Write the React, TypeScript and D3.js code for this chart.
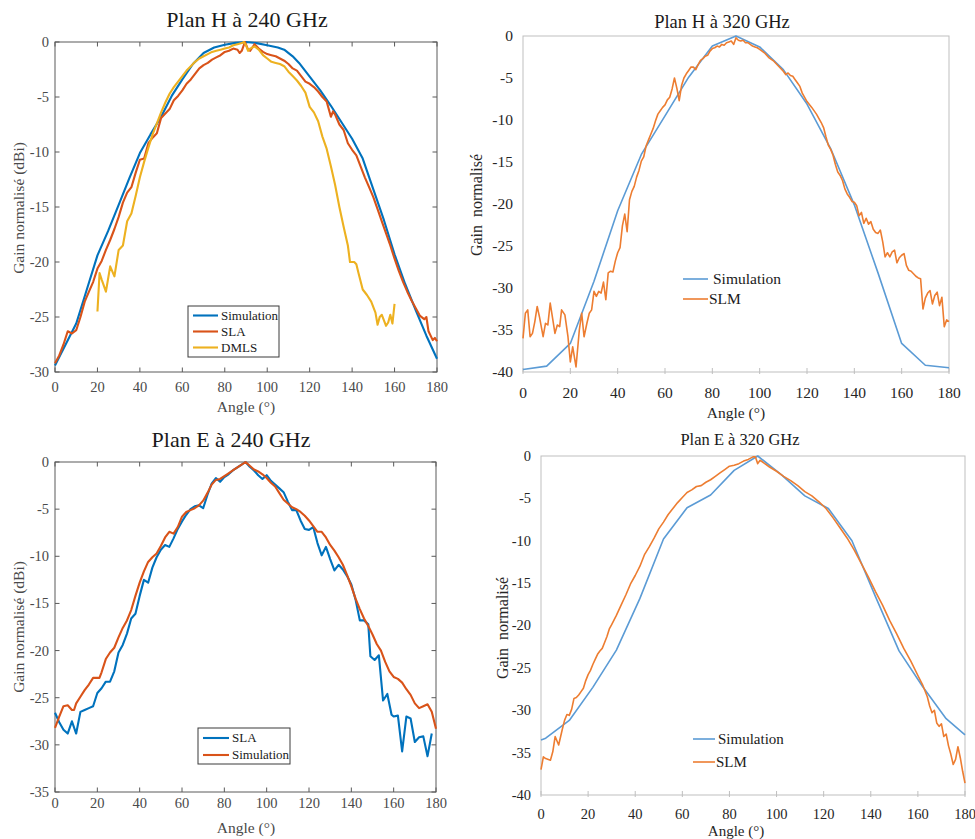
import React from "react";
import * as d3 from "d3";

type Pt = [number, number];

// ---------- Data ----------
const xTickValues = [0, 20, 40, 60, 80, 100, 120, 140, 160, 180];

// Plan H à 240 GHz
const h240Simulation: Pt[] = [
  [0, -29.4], [5, -27.5], [10, -25.6], [15, -22.5], [20, -19.4], [25, -17.2], [30, -14.8], [35, -12.4],
  [40, -10.1], [45, -8.4], [50, -6.8], [55, -4.9], [60, -3.4], [65, -2.0], [70, -1.0], [75, -0.5],
  [80, -0.25], [85, -0.08], [90, 0], [95, -0.1], [100, -0.3], [105, -0.5], [108, -0.7], [112, -1.3],
  [115, -1.9], [119, -2.9], [125, -4.4], [130, -5.8], [135, -7.3], [140, -8.8], [145, -10.6],
  [150, -13.4], [155, -16.2], [160, -19.3], [165, -22.0], [170, -24.4], [175, -26.7], [180, -28.8],
];
const h240SLA: Pt[] = [
  [0, -29.2], [2, -28.5], [4, -27.5], [6, -26.3], [8, -26.5], [10, -26.2], [12, -25.0], [14, -23.6],
  [16, -22.7], [18, -21.8], [20, -20.6], [22, -19.9], [24, -18.9], [26, -18.0], [28, -17.0], [30, -15.9],
  [32, -14.6], [34, -13.7], [36, -13.2], [38, -11.9], [40, -10.7], [42, -10.6], [44, -9.2], [46, -8.7],
  [48, -8.3], [50, -6.9], [52, -6.5], [54, -6.1], [56, -5.3], [58, -4.9], [60, -4.4], [62, -3.8],
  [64, -3.4], [66, -2.9], [68, -2.4], [70, -2.1], [72, -1.9], [74, -1.6], [76, -1.4], [78, -1.2],
  [80, -0.9], [82, -0.8], [84, -0.6], [86, -0.7], [87, -1.0], [88, -0.8], [89.5, 0], [91, -0.7],
  [92, -0.8], [94, -0.2], [96, -0.6], [98, -0.9], [100, -1.1], [102, -1.2], [104, -1.3], [106, -1.5],
  [108, -1.7], [110, -2.0], [112, -2.4], [114, -2.6], [116, -3.1], [118, -3.6], [120, -3.8], [122, -4.1],
  [124, -4.5], [126, -5.0], [128, -5.4], [130, -6.8], [131, -6.3], [132, -6.6], [134, -7.5], [136, -8.0],
  [138, -9.2], [140, -9.8], [142, -10.3], [144, -11.3], [146, -12.3], [148, -13.2], [150, -14.1],
  [152, -15.2], [154, -16.3], [156, -17.4], [158, -18.5], [160, -19.7], [162, -20.8], [164, -21.8],
  [166, -22.7], [168, -23.5], [170, -24.2], [172, -24.9], [174, -25.2], [175, -25.0], [176, -26.3],
  [178, -27.1], [179, -26.9], [180, -27.2],
];
const h240DMLS: Pt[] = [
  [20, -24.5], [21, -21.0], [22, -21.6], [24, -22.7], [26, -20.4], [28, -21.3], [30, -18.9], [32, -18.5],
  [34, -16.3], [36, -15.6], [38, -14.0], [40, -12.3], [42, -10.9], [44, -9.6], [46, -8.4], [48, -7.4],
  [50, -6.4], [52, -5.5], [54, -4.7], [56, -4.1], [58, -3.6], [60, -3.1], [62, -2.6], [64, -2.2],
  [66, -1.8], [68, -1.5], [70, -1.3], [72, -1.1], [74, -0.9], [76, -0.8], [78, -0.7], [80, -0.6],
  [82, -0.5], [84, -0.3], [86, -0.2], [88, -0.1], [89, 0], [90, -0.3], [91, -0.8], [92, -0.6],
  [93, -0.5], [94, -0.4], [96, -0.7], [98, -1.2], [100, -1.5], [102, -1.8], [104, -1.9], [106, -2.0],
  [108, -2.2], [110, -2.7], [112, -3.1], [114, -3.5], [116, -4.0], [118, -4.6], [120, -5.9], [122, -6.4],
  [124, -7.2], [126, -8.6], [128, -9.7], [130, -11.3], [132, -13.0], [134, -15.0], [136, -16.8],
  [138, -18.5], [139, -20.0], [141, -20.0], [142, -20.2], [143, -21.0], [145, -22.5], [147, -23.0],
  [149, -23.6], [151, -24.6], [152, -25.7], [153, -25.0], [154, -24.8], [156, -25.8], [157, -25.5],
  [158, -24.8], [159, -25.6], [160, -23.8],
];

// Plan E à 240 GHz
const e240SLA: Pt[] = [
  [0, -26.6], [2, -27.6], [4, -28.4], [6, -28.8], [8, -27.5], [10, -28.8], [12, -26.5], [14, -26.3],
  [16, -26.1], [18, -25.9], [20, -24.5], [22, -24.0], [24, -23.3], [26, -23.3], [28, -22.2], [30, -20.2],
  [32, -19.4], [34, -18.2], [36, -16.6], [38, -16.1], [40, -14.2], [42, -12.5], [44, -12.8], [46, -11.2],
  [48, -10.1], [50, -9.3], [52, -8.8], [54, -9.0], [56, -8.1], [58, -7.1], [60, -6.3], [62, -5.6],
  [64, -5.0], [66, -4.7], [68, -4.6], [70, -4.9], [72, -3.5], [74, -2.3], [76, -1.7], [78, -2.1],
  [80, -1.6], [82, -1.3], [84, -0.9], [86, -0.6], [88, -0.3], [90, 0], [92, -0.5], [94, -0.9],
  [96, -1.4], [98, -1.8], [100, -1.4], [102, -2.0], [104, -2.4], [106, -2.8], [108, -3.2], [110, -4.2],
  [112, -5.1], [114, -5.1], [116, -6.2], [118, -7.1], [120, -7.2], [122, -6.9], [124, -8.6], [126, -9.9],
  [128, -9.0], [130, -10.3], [132, -11.5], [134, -10.9], [136, -11.4], [138, -12.1], [140, -13.0],
  [142, -14.6], [144, -16.8], [146, -16.8], [148, -17.2], [149, -20.6], [151, -21.0], [153, -20.5],
  [155, -25.3], [157, -24.6], [159, -26.8], [160, -27.0], [162, -26.9], [164, -30.7], [166, -27.0],
  [168, -27.2], [170, -29.7], [172, -29.2], [174, -29.1], [176, -31.2], [178, -28.8],
];
const e240Simulation: Pt[] = [
  [0, -28.2], [2, -27.0], [4, -25.9], [6, -25.8], [8, -26.3], [9, -26.3], [10, -25.6], [12, -24.9],
  [14, -24.2], [16, -23.6], [18, -22.9], [20, -22.9], [21, -22.9], [22, -22.3], [24, -20.9], [26, -20.2],
  [28, -19.7], [30, -18.6], [32, -17.6], [34, -16.8], [36, -15.7], [38, -14.2], [40, -12.8], [42, -11.6],
  [44, -10.6], [46, -10.1], [48, -9.7], [50, -8.9], [52, -8.0], [54, -7.4], [56, -7.6], [58, -6.9],
  [60, -5.8], [62, -5.3], [64, -5.1], [66, -4.9], [68, -4.6], [70, -4.1], [72, -3.3], [74, -2.4],
  [76, -1.9], [78, -1.8], [80, -1.5], [82, -1.2], [84, -0.9], [86, -0.6], [88, -0.3], [90, 0],
  [92, -0.4], [94, -0.8], [96, -1.0], [98, -1.3], [100, -1.7], [102, -2.2], [104, -2.6], [106, -3.3],
  [108, -4.0], [110, -4.4], [112, -4.8], [114, -5.0], [116, -5.3], [118, -5.7], [120, -6.2], [122, -6.8],
  [124, -7.4], [126, -7.4], [128, -8.0], [130, -8.8], [132, -9.4], [134, -10.1], [136, -10.9],
  [138, -12.0], [140, -13.2], [142, -14.5], [144, -15.6], [146, -16.6], [148, -17.4], [150, -18.3],
  [152, -19.3], [154, -20.0], [156, -21.2], [158, -22.2], [160, -22.8], [162, -23.0], [164, -23.4],
  [166, -24.1], [168, -24.7], [170, -25.6], [172, -26.1], [174, -25.9], [176, -25.7], [178, -26.5],
  [180, -28.3],
];

// Plan H à 320 GHz
const h320Simulation: Pt[] = [
  [0, -39.7], [10, -39.3], [20, -36.6], [30, -29.2], [40, -20.8], [50, -14.1], [60, -9.5], [70, -4.9],
  [80, -1.2], [90, 0], [100, -1.3], [110, -4.0], [120, -8.1], [130, -13.4], [140, -20.1], [150, -28.2],
  [160, -36.6], [170, -39.2], [180, -39.5],
];
const h320SLM: Pt[] = [
  [0, -36.0], [1, -33.0], [2, -32.6], [3, -35.8], [4, -35.4], [5, -34.0], [6, -32.2], [7, -33.5],
  [8.5, -35.8], [9.5, -34.2], [10.5, -34.4], [11.5, -31.8], [12.5, -33.6], [13.5, -35.4], [14.5, -34.4],
  [15.5, -34.6], [16.3, -32.6], [17.7, -33.2], [19, -35.8], [20, -38.8], [21, -37.0], [22.4, -39.4],
  [23.8, -35.0], [24.8, -33.0], [25.8, -35.8], [27, -34.2], [28, -33.0], [29, -32.6], [30, -30.4],
  [31, -31.0], [32, -30.4], [33, -30.6], [34, -29.3], [35, -31.4], [36, -28.2], [37, -28.0], [38, -28.1],
  [39, -26.8], [40, -25.8], [41, -25.2], [42, -22.6], [43, -21.2], [44, -23.3], [45, -19.5], [46, -18.5],
  [47, -17.9], [48, -16.8], [49, -16.0], [50, -14.9], [51, -14.4], [52, -13.1], [53, -12.4], [54, -11.7],
  [55, -11.0], [56, -10.1], [57, -9.3], [58, -8.9], [59, -8.5], [60, -8.2], [61, -7.6], [62, -7.3],
  [63, -6.3], [64, -5.0], [65, -6.2], [66, -7.7], [67, -5.9], [68, -5.0], [69, -4.5], [70, -4.1],
  [71, -3.7], [72, -3.7], [73, -4.0], [74, -3.4], [75, -2.9], [76, -2.7], [77, -2.4], [78, -2.3],
  [79, -1.8], [80, -1.5], [81, -1.4], [82, -1.2], [83, -1.3], [84, -1.0], [85, -1.1], [86, -0.8],
  [87, -0.7], [88, -0.6], [89, -1.0], [90, -0.2], [91, -0.5], [92, -0.6], [93, -0.5], [94, -0.8],
  [95, -0.8], [96, -1.0], [97, -1.2], [98, -1.3], [99, -1.4], [100, -1.6], [102, -2.0], [104, -2.6],
  [106, -3.0], [108, -3.6], [110, -4.2], [111, -4.6], [112, -4.4], [113, -4.7], [114, -4.8], [115, -5.2],
  [116, -5.6], [117, -6.0], [118, -6.8], [119, -7.3], [120, -7.8], [122, -8.5], [124, -9.3], [126, -10.3],
  [127, -10.9], [128, -12.0], [129, -13.0], [130, -13.5], [131, -14.2], [132, -15.3], [133, -16.2],
  [134, -16.6], [135, -17.2], [136, -18.2], [137, -18.8], [138, -19.2], [139, -19.7], [140, -19.8],
  [141, -20.2], [142, -21.4], [143, -21.0], [144, -22.3], [145, -21.7], [146, -22.4], [147, -22.1],
  [148, -23.0], [149, -23.4], [150, -23.5], [151, -23.1], [152, -24.5], [153, -26.3], [154, -25.8],
  [155, -26.3], [156, -25.7], [157, -25.5], [158, -27.0], [159, -26.4], [160, -26.1], [161, -25.9],
  [162, -27.3], [163, -27.9], [164, -28.0], [165, -28.3], [166, -28.6], [167, -28.8], [168, -28.9],
  [169, -32.5], [170, -31.2], [171, -30.6], [172, -30.3], [173, -31.9], [174, -30.9], [175, -30.5],
  [176, -32.1], [177, -31.1], [178, -34.6], [179, -33.8], [180, -34.0],
];

// Plan E à 320 GHz
const e320Simulation: Pt[] = [
  [0, -33.5], [2, -33.3], [12, -31.2], [22, -27.3], [32, -22.9], [42, -16.8], [52, -9.8], [62, -6.1],
  [72, -4.6], [82, -1.7], [92, 0], [102, -2.2], [112, -4.7], [122, -6.2], [132, -10.0], [142, -16.6],
  [152, -23.0], [162, -27.2], [172, -31.0], [180, -32.9],
];
const e320SLM: Pt[] = [
  [0, -37.0], [1, -35.5], [2, -35.7], [4, -35.9], [5, -34.9], [6, -33.1], [7.5, -34.1], [9, -32.3],
  [10, -31.2], [11, -30.5], [12, -30.6], [13, -29.9], [14, -28.6], [15, -28.5], [16, -28.2], [17, -27.8],
  [18, -27.4], [19, -26.5], [20, -25.8], [21, -25.3], [22, -24.6], [23, -24.0], [24, -23.4], [25, -23.0],
  [26, -22.7], [27, -22.0], [28, -21.3], [29, -20.4], [30, -19.9], [32, -18.8], [34, -17.6], [36, -16.4],
  [38, -15.1], [40, -14.1], [42, -13.0], [44, -11.6], [46, -10.7], [48, -9.7], [50, -8.6], [52, -7.8],
  [54, -6.9], [56, -6.2], [58, -5.5], [60, -4.9], [62, -4.3], [64, -4.0], [66, -3.6], [68, -3.5],
  [70, -3.1], [72, -2.8], [74, -2.4], [76, -2.0], [78, -1.6], [80, -1.2], [82, -1.1], [84, -0.9],
  [86, -0.6], [88, -0.4], [90, -0.1], [91, -0.1], [92, -0.9], [93, -0.5], [95, -0.9], [97, -1.3],
  [100, -1.8], [103, -2.4], [106, -2.9], [109, -3.5], [112, -4.2], [115, -4.7], [118, -5.4], [121, -6.2],
  [124, -7.3], [127, -8.5], [130, -9.7], [133, -11.1], [136, -12.7], [139, -14.3], [142, -16.0],
  [145, -17.6], [148, -19.4], [151, -21.0], [154, -22.7], [157, -24.2], [160, -25.9], [162, -27.0],
  [164, -28.4], [165, -29.5], [166, -30.3], [167, -30.0], [168, -31.5], [169, -31.9], [170, -31.6],
  [171, -33.1], [172, -32.8], [173, -34.2], [174, -35.2], [175, -36.4], [176, -35.8], [177, -34.3],
  [178, -35.6], [179, -37.2], [180, -38.6],
];

// ---------- Styling ----------
const ML_BLUE = "#0072BD";
const ML_RED = "#D95319";
const ML_YELLOW = "#EDB120";
const XL_BLUE = "#5B9BD5";
const XL_ORANGE = "#ED7D31";
const SERIF = "'Liberation Serif', 'Times New Roman', serif";

type Series = { name: string; data: Pt[]; color: string };

type PanelCfg = {
  kind: "matlab" | "excel";
  left: number; right: number; top: number; bottom: number;
  yMin: number;
  title: string; titleX: number; titleY: number; titleSize: number;
  yLabel: string; yLabelX: number; yLabelY: number; yLabelSize: number;
  xLabelX: number; xLabelY: number; xLabelSize: number;
  tickSize: number; xTickY: number; yTickGap: number;
  series: Series[];
  legendOrder: string[];
  legend: { x: number; y: number; w: number; h: number; rowY: number[]; lineX0: number; lineX1: number; textX: number[]; size: number; box: boolean };
};

function Panel({ cfg }: { cfg: PanelCfg }) {
  const x = d3.scaleLinear().domain([0, 180]).range([cfg.left, cfg.right]);
  const y = d3.scaleLinear().domain([cfg.yMin, 0]).range([cfg.bottom, cfg.top]);
  const line = d3.line<Pt>().x((d) => x(d[0])).y((d) => y(d[1]));
  const yTicks = d3.range(cfg.yMin, 0.001, 5);
  const isML = cfg.kind === "matlab";
  const axisColor = isML ? "#5a5a5a" : "#bfbfbf";
  const labelColor = isML ? "#4a4a4a" : "#262626";
  const lw = isML ? 2.1 : 1.6;
  const tl = 4.5;
  const lg = cfg.legend;
  return (
    <g fontFamily={SERIF}>
      <text x={cfg.titleX} y={cfg.titleY} textAnchor="middle" fontSize={cfg.titleSize} fill="#1a1a1a">{cfg.title}</text>
      <rect x={cfg.left} y={cfg.top} width={cfg.right - cfg.left} height={cfg.bottom - cfg.top} fill="white" stroke={axisColor} strokeWidth={1} />
      {xTickValues.map((t) => (
        <g key={"xt" + t}>
          {isML ? (
            <>
              <line x1={x(t)} x2={x(t)} y1={cfg.bottom} y2={cfg.bottom - tl} stroke={axisColor} />
              <line x1={x(t)} x2={x(t)} y1={cfg.top} y2={cfg.top + tl} stroke={axisColor} />
            </>
          ) : (
            <line x1={x(t)} x2={x(t)} y1={cfg.bottom + 2} y2={cfg.bottom - 4} stroke={axisColor} />
          )}
          <text x={x(t)} y={cfg.xTickY} textAnchor="middle" fontSize={cfg.tickSize} fill={labelColor}>{t}</text>
        </g>
      ))}
      {yTicks.map((t) => (
        <g key={"yt" + t}>
          {isML && (
            <>
              <line x1={cfg.left} x2={cfg.left + tl} y1={y(t)} y2={y(t)} stroke={axisColor} />
              <line x1={cfg.right} x2={cfg.right - tl} y1={y(t)} y2={y(t)} stroke={axisColor} />
            </>
          )}
          <text x={cfg.left - cfg.yTickGap} y={y(t)} dy="0.34em" textAnchor="end" fontSize={cfg.tickSize} fill={labelColor}>{t === 0 ? "0" : String(t)}</text>
        </g>
      ))}
      {cfg.series.map((s) => (
        <path key={s.name} d={line(s.data) || ""} fill="none" stroke={s.color} strokeWidth={lw} strokeLinejoin="round" />
      ))}
      <text x={cfg.xLabelX} y={cfg.xLabelY} textAnchor="middle" fontSize={cfg.xLabelSize} fill={labelColor}>Angle (°)</text>
      <text transform={`translate(${cfg.yLabelX},${cfg.yLabelY}) rotate(-90)`} textAnchor="middle" dy="0.34em" fontSize={cfg.yLabelSize} fill={labelColor} style={{ whiteSpace: "pre" }}>{cfg.yLabel}</text>
      {lg.box && <rect x={lg.x} y={lg.y} width={lg.w} height={lg.h} fill="white" stroke="#3a3a3a" strokeWidth={1} />}
      {cfg.legendOrder.map((name, i) => {
        const s = cfg.series.find((q) => q.name === name)!;
        return (
          <g key={"lg" + name}>
            <line x1={lg.lineX0} x2={lg.lineX1} y1={lg.rowY[i]} y2={lg.rowY[i]} stroke={s.color} strokeWidth={lw} />
            <text x={lg.textX[i]} y={lg.rowY[i]} dy="0.34em" fontSize={lg.size} fill="#1a1a1a">{name}</text>
          </g>
        );
      })}
    </g>
  );
}

const panels: PanelCfg[] = [
  {
    kind: "matlab", left: 55, right: 437, top: 42, bottom: 372, yMin: -30,
    title: "Plan H à 240 GHz", titleX: 247, titleY: 27, titleSize: 22,
    yLabel: "Gain normalisé (dBi)", yLabelX: 19, yLabelY: 208, yLabelSize: 15.5,
    xLabelX: 246, xLabelY: 412, xLabelSize: 15.5, tickSize: 14.5, xTickY: 392, yTickGap: 6,
    series: [
      { name: "Simulation", data: h240Simulation, color: ML_BLUE },
      { name: "SLA", data: h240SLA, color: ML_RED },
      { name: "DMLS", data: h240DMLS, color: ML_YELLOW },
    ],
    legendOrder: ["Simulation", "SLA", "DMLS"],
    legend: { x: 188, y: 306, w: 91, h: 51, rowY: [315.5, 331.5, 347.5], lineX0: 193, lineX1: 218, textX: [221, 221, 221], size: 13, box: true },
  },
  {
    kind: "matlab", left: 55, right: 436, top: 462, bottom: 792, yMin: -35,
    title: "Plan E à 240 GHz", titleX: 231, titleY: 447, titleSize: 22,
    yLabel: "Gain normalisé (dBi)", yLabelX: 19, yLabelY: 627, yLabelSize: 15.5,
    xLabelX: 246, xLabelY: 833, xLabelSize: 15.5, tickSize: 14.5, xTickY: 808, yTickGap: 6,
    series: [
      { name: "SLA", data: e240SLA, color: ML_BLUE },
      { name: "Simulation", data: e240Simulation, color: ML_RED },
    ],
    legendOrder: ["SLA", "Simulation"],
    legend: { x: 198, y: 728, w: 92, h: 36, rowY: [738, 755], lineX0: 203, lineX1: 229, textX: [232, 232], size: 13, box: true },
  },
  {
    kind: "excel", left: 523, right: 949, top: 36, bottom: 372, yMin: -40,
    title: "Plan H à 320 GHz", titleX: 722, titleY: 28, titleSize: 18.5,
    yLabel: "Gain  normalisé", yLabelX: 477, yLabelY: 205, yLabelSize: 16,
    xLabelX: 736, xLabelY: 418, xLabelSize: 15.5, tickSize: 15.5, xTickY: 398, yTickGap: 10,
    series: [
      { name: "Simulation", data: h320Simulation, color: XL_BLUE },
      { name: "SLM", data: h320SLM, color: XL_ORANGE },
    ],
    legendOrder: ["Simulation", "SLM"],
    legend: { x: 0, y: 0, w: 0, h: 0, rowY: [279, 299], lineX0: 683, lineX1: 708, textX: [713, 709], size: 15.5, box: false },
  },
  {
    kind: "excel", left: 541, right: 965, top: 456, bottom: 795, yMin: -40,
    title: "Plan E à 320 GHz", titleX: 740, titleY: 445, titleSize: 16.5,
    yLabel: "Gain  normalisé", yLabelX: 503, yLabelY: 628, yLabelSize: 16,
    xLabelX: 736, xLabelY: 836, xLabelSize: 15, tickSize: 14.5, xTickY: 819, yTickGap: 10,
    series: [
      { name: "Simulation", data: e320Simulation, color: XL_BLUE },
      { name: "SLM", data: e320SLM, color: XL_ORANGE },
    ],
    legendOrder: ["Simulation", "SLM"],
    legend: { x: 0, y: 0, w: 0, h: 0, rowY: [739, 762], lineX0: 693, lineX1: 715, textX: [718, 716], size: 15, box: false },
  },
];

export default function App() {
  return (
    <svg
      width={975}
      height={839}
      viewBox="0 0 975 839"
      style={{ position: "absolute", left: 0, top: 0, background: "white" }}
    >
      <rect x={0} y={0} width={975} height={839} fill="white" />
      {panels.map((p, i) => (
        <Panel key={i} cfg={p} />
      ))}
    </svg>
  );
}
